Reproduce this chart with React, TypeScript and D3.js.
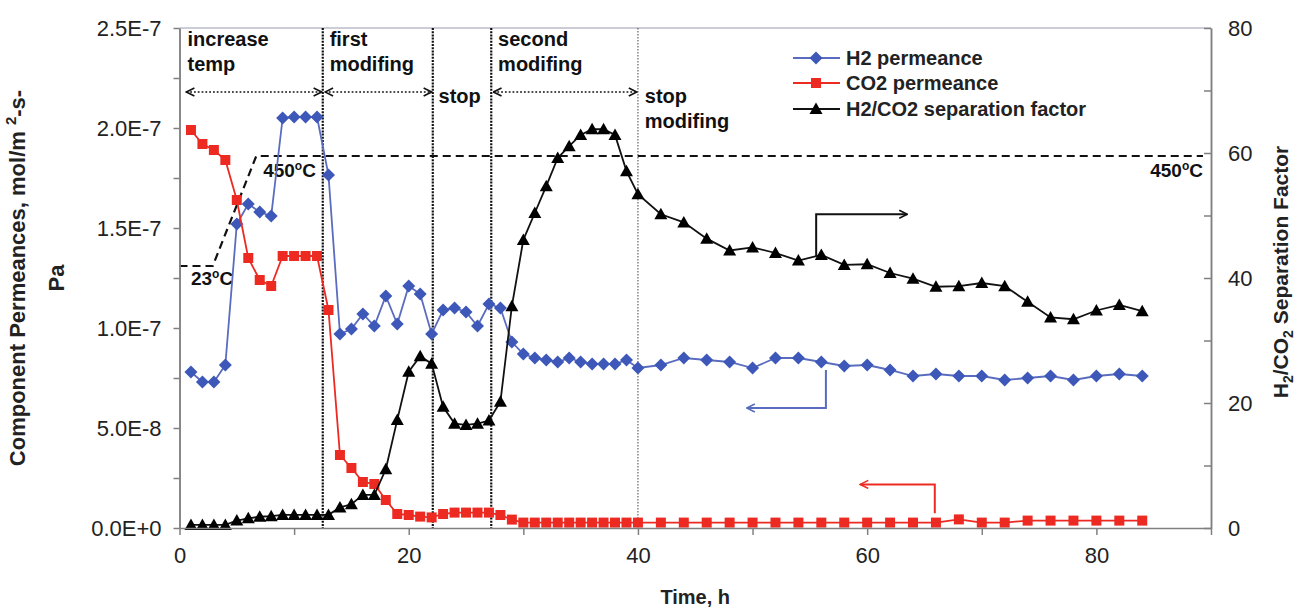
import React, { useEffect, useRef } from 'react'
import * as d3 from 'd3'

// time axis (h)
const hours = [
  1, 2, 3, 4, 5, 6, 7, 8, 9, 10, 11, 12, 13, 14, 15, 16, 17, 18, 19, 20,
  21, 22, 23, 24, 25, 26, 27, 28, 29, 30, 31, 32, 33, 34, 35, 36, 37, 38, 39,
  40, 42, 44, 46, 48, 50, 52, 54, 56, 58, 60, 62, 64, 66, 68, 70, 72, 74, 76, 78, 80, 82, 84,
]

// permeances in units of 1E-7 mol/m2-s-Pa
const h2Permeance = [
  0.78, 0.73, 0.73, 0.815, 1.52, 1.62, 1.58, 1.56, 2.05, 2.055, 2.055, 2.055, 1.765, 0.97, 0.995, 1.07, 1.01, 1.16, 1.02, 1.21,
  1.17, 0.97, 1.09, 1.1, 1.08, 1.01, 1.12, 1.1, 0.93, 0.87, 0.85, 0.84, 0.83, 0.85, 0.83, 0.82, 0.82, 0.82, 0.84,
  0.8, 0.815, 0.85, 0.84, 0.83, 0.8, 0.85, 0.85, 0.83, 0.81, 0.815, 0.79, 0.76, 0.77, 0.76, 0.76, 0.74, 0.75, 0.76, 0.74, 0.76, 0.77, 0.76,
]
const co2Permeance = [
  1.99, 1.92, 1.89, 1.84, 1.64, 1.35, 1.24, 1.21, 1.36, 1.36, 1.36, 1.36, 1.09, 0.365, 0.3, 0.23, 0.22, 0.14, 0.07, 0.065,
  0.057, 0.053, 0.07, 0.077, 0.077, 0.077, 0.077, 0.065, 0.042, 0.027, 0.027, 0.027, 0.027, 0.027, 0.027, 0.027, 0.027, 0.027, 0.027,
  0.027, 0.027, 0.027, 0.027, 0.027, 0.027, 0.027, 0.027, 0.027, 0.027, 0.027, 0.027, 0.027, 0.027, 0.043, 0.027, 0.027, 0.037, 0.037, 0.037, 0.037, 0.037, 0.037,
]
const separationFactor = [
  0.5, 0.5, 0.5, 0.5, 1.2, 1.55, 1.8, 1.9, 2.1, 2.1, 2.1, 2.1, 2.1, 3.3, 3.8, 5.3, 5.3, 9.4, 17.3, 25,
  27.5, 26.3, 19.4, 16.7, 16.5, 16.7, 17.2, 20.2, 35.5, 46.1, 50.4, 54.7, 59.2, 61.1, 62.9, 63.8, 63.8, 62.9, 57.1,
  53.4, 50.2, 48.9, 46.3, 44.4, 44.9, 44, 42.8, 43.7, 42.1, 42.2, 40.8, 39.9, 38.6, 38.7, 39.2, 38.7, 36.2, 33.7, 33.4, 34.8, 35.7, 34.7,
]

// furnace temperature profile (drawn against the left axis)
const tempHours = [0, 2.9, 6.7, 89.3]
const tempLevel = [1.31, 1.31, 1.86, 1.86]

// phase boundaries and labels
const phaseBounds = [12.5, 22.1, 27.2]
const stopBound = 40
const phaseSpans = [[0.6, 12.4], [12.7, 22.0], [27.4, 39.9]]
const phaseNames = [
  { t: 0.7, row: 0, lines: ['increase', 'temp'] },
  { t: 13.1, row: 0, lines: ['first', 'modifing'] },
  { t: 22.6, row: 1, lines: ['stop'] },
  { t: 27.8, row: 0, lines: ['second', 'modifing'] },
  { t: 40.6, row: 1, lines: ['stop', 'modifing'] },
]

const legendNames = ['H2 permeance', 'CO2 permeance', 'H2/CO2 separation factor']
const leftTicks = [0, 0.5, 1, 1.5, 2, 2.5]
const rightTicks = [0, 20, 40, 60, 80]
const timeTicks = [0, 10, 20, 30, 40, 50, 60, 70, 80, 90]

const BLUE = '#3d58b8'
const BLUE_LINE = '#5a6cc0'
const RED = '#ec2a22'
const FONT = "'Liberation Sans', Arial, sans-serif"

const x = d3.scaleLinear().domain([0, 90]).range([179.5, 1211])
const yLeft = d3.scaleLinear().domain([0, 2.5]).range([528, 28])
const yRight = d3.scaleLinear().domain([0, 80]).range([528, 28])

const diamond = 'M0,-6.5L6.5,0L0,6.5L-6.5,0Z'
const square = 'M-5,-5H5V5H-5Z'
const triangle = 'M0,-6.5L6.5,5L-6.5,5Z'

const App = () => {
  const leftRef = useRef<SVGGElement>(null)
  const leftMinorRef = useRef<SVGGElement>(null)
  const rightRef = useRef<SVGGElement>(null)
  const rightMinorRef = useRef<SVGGElement>(null)
  const bottomRef = useRef<SVGGElement>(null)

  useEffect(() => {
    const sci = (d: number) => d3.format('.1e')(d * 1e-7).toUpperCase()

    const left = d3.select(leftRef.current!)
      .call(d3.axisLeft(yLeft).tickValues(leftTicks).tickFormat(sci as any).tickSize(6).tickSizeOuter(0).tickPadding(12))
    d3.select(leftMinorRef.current!)
      .call(d3.axisLeft(yLeft).tickValues([0.25, 0.75, 1.25, 1.75, 2.25]).tickFormat(() => '').tickSize(6).tickSizeOuter(0))

    const right = d3.select(rightRef.current!)
      .call(d3.axisRight(yRight).tickValues(rightTicks).tickSizeInner(-7).tickSizeOuter(0).tickPadding(17))
    d3.select(rightMinorRef.current!)
      .call(d3.axisRight(yRight).tickValues([10, 30, 50, 70]).tickFormat(() => '').tickSizeInner(-7).tickSizeOuter(0))

    const bottom = d3.select(bottomRef.current!)
      .call(d3.axisBottom(x).tickValues(timeTicks).tickFormat((d: any) => (d % 20 === 0 && d < 90 ? String(d) : '')).tickSize(7).tickSizeOuter(0).tickPadding(12))

    for (const g of [left, right, bottom]) {
      g.selectAll('text').attr('font-family', FONT).attr('font-size', 22).attr('fill', '#222')
    }
    d3.selectAll([leftRef.current, leftMinorRef.current, rightRef.current, rightMinorRef.current, bottomRef.current])
      .selectAll('path, line')
      .attr('stroke', '#808080')
      .attr('stroke-width', 1.5)
  }, [])

  const lineFor = (scale: d3.ScaleLinear<number, number>) =>
    d3.line<number>().x((_, i) => x(hours[i])).y((d) => scale(d))

  const series = [
    { vals: h2Permeance, y: yLeft, stroke: BLUE_LINE, fill: BLUE, shape: diamond },
    { vals: co2Permeance, y: yLeft, stroke: RED, fill: RED, shape: square },
    { vals: separationFactor, y: yRight, stroke: '#111', fill: '#000', shape: triangle },
  ]

  const tempPath = d3.line<number>().x((_, i) => x(tempHours[i])).y((d) => yLeft(d))(tempLevel)

  // axis pointer arrows: [time, value] points with the axis they refer to
  const pointers = [
    { color: '#111', marker: 'arrK', pts: [[55.55, 43.5], [55.55, 50.2], [63.5, 50.2]], y: yRight },
    { color: BLUE_LINE, marker: 'arrB', pts: [[56.4, 0.79], [56.4, 0.6], [49.5, 0.6]], y: yLeft },
    { color: RED, marker: 'arrR', pts: [[65.9, 0.074], [65.9, 0.218], [59.4, 0.218]], y: yLeft },
  ]

  const legendY = [58, 83, 109]

  return (
    <div style={{ position: 'absolute', left: 0, top: 0 }}>
      <svg width={1295} height={610} style={{ display: 'block', background: '#fff' }} fontFamily={FONT}>
        <defs>
          {[['arrK', '#111'], ['arrB', BLUE_LINE], ['arrR', RED], ['arrD', '#111']].map(([id, c]) => (
            <marker key={id} id={id} viewBox="0 0 10 10" refX={9} refY={5} markerWidth={10} markerHeight={10}
              markerUnits="userSpaceOnUse" orient="auto-start-reverse">
              <path d="M1,1L9,5L1,9" fill="none" stroke={c} strokeWidth={1.6} />
            </marker>
          ))}
        </defs>

        <line x1={x(0)} x2={x(90)} y1={yLeft(2.5)} y2={yLeft(2.5)} stroke="#9a9ab0" strokeWidth={1} />

        {phaseBounds.map((t) => (
          <line key={t} x1={x(t)} x2={x(t)} y1={yLeft(2.5)} y2={yLeft(0)} stroke="#111" strokeWidth={2.2} strokeDasharray="2,1.2" />
        ))}
        <line x1={x(stopBound)} x2={x(stopBound)} y1={yLeft(2.5)} y2={yLeft(0)} stroke="#444" strokeWidth={1} strokeDasharray="1.5,1.5" />

        {phaseSpans.map(([a, b]) => (
          <line key={a} x1={x(a)} x2={x(b)} y1={92} y2={92} stroke="#111" strokeWidth={1.6} strokeDasharray="1.8,2"
            markerStart="url(#arrD)" markerEnd="url(#arrD)" />
        ))}
        {phaseNames.map((p) => (
          <text key={p.t} x={x(p.t)} y={p.row === 0 ? 46 : 103} fontSize={20} fontWeight="bold" fill="#111">
            {p.lines.map((s, i) => (
              <tspan key={i} x={x(p.t)} dy={i === 0 ? 0 : 25}>{s}</tspan>
            ))}
          </text>
        ))}

        <path d={tempPath ?? ''} fill="none" stroke="#111" strokeWidth={2.2} strokeDasharray="8,5" />
        <text x={x(1.0)} y={285} fontSize={19} fontWeight="bold" fill="#111">
          23<tspan dy={-7} fontSize={12}>o</tspan><tspan dy={7}>C</tspan>
        </text>
        <text x={x(7.3)} y={177} fontSize={19} fontWeight="bold" fill="#111">
          450<tspan dy={-7} fontSize={12}>o</tspan><tspan dy={7}>C</tspan>
        </text>
        <text x={x(89.3)} y={177} fontSize={19} fontWeight="bold" fill="#111" textAnchor="end">
          450<tspan dy={-7} fontSize={12}>o</tspan><tspan dy={7}>C</tspan>
        </text>

        {series.map((s, k) => (
          <g key={k}>
            <path d={lineFor(s.y)(s.vals) ?? ''} fill="none" stroke={s.stroke} strokeWidth={1.8} />
            {s.vals.map((v, i) => (
              <path key={i} d={s.shape} transform={`translate(${x(hours[i])},${s.y(v)})`} fill={s.fill} />
            ))}
          </g>
        ))}

        {pointers.map((p) => (
          <polyline key={p.marker} points={p.pts.map(([t, v]) => `${x(t)},${p.y(v)}`).join(' ')}
            fill="none" stroke={p.color} strokeWidth={2} markerEnd={`url(#${p.marker})`} />
        ))}

        {series.map((s, k) => (
          <g key={k} transform={`translate(0,${legendY[k]})`}>
            <line x1={793} x2={840} stroke={s.stroke} strokeWidth={2} />
            <path d={s.shape} transform="translate(816,0)" fill={s.fill} />
            <text x={846} y={7} fontSize={20} fontWeight="bold" fill="#222">{legendNames[k]}</text>
          </g>
        ))}

        <g ref={leftMinorRef} transform={`translate(${x(0)},0)`} />
        <g ref={leftRef} transform={`translate(${x(0)},0)`} />
        <g ref={rightMinorRef} transform={`translate(${x(90)},0)`} />
        <g ref={rightRef} transform={`translate(${x(90)},0)`} />
        <g ref={bottomRef} transform={`translate(0,${yLeft(0)})`} />

        <text transform={`translate(25,${(yLeft(0) + yLeft(2.5)) / 2}) rotate(-90)`} textAnchor="middle" fontSize={22} fontWeight="bold" fill="#222">
          Component Permeances, mol/m <tspan dy={-9} fontSize={15}>2</tspan><tspan dy={9}>-s-</tspan>
        </text>
        <text transform={`translate(64,${(yLeft(0) + yLeft(2.5)) / 2}) rotate(-90)`} textAnchor="middle" fontSize={22} fontWeight="bold" fill="#222">
          Pa
        </text>
        <text transform={`translate(1288,${(yRight(0) + yRight(80)) / 2 - 6}) rotate(-90)`} textAnchor="middle" fontSize={21} fontWeight="bold" fill="#222">
          H<tspan dy={5} fontSize={14}>2</tspan><tspan dy={-5}>/CO</tspan><tspan dy={5} fontSize={14}>2</tspan><tspan dy={-5}> Separation Factor</tspan>
        </text>
        <text x={(x(0) + x(90)) / 2} y={604} textAnchor="middle" fontSize={20} fontWeight="bold" fill="#222">Time, h</text>
      </svg>
    </div>
  )
}

export default App
